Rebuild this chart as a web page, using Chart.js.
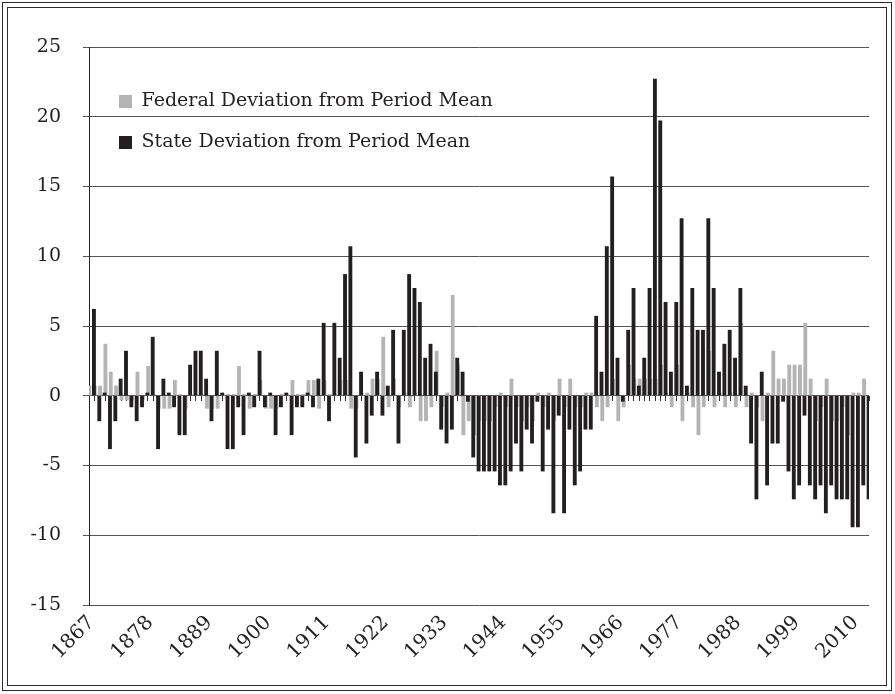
<!DOCTYPE html>
<html><head><meta charset="utf-8">
<script src="https://cdn.jsdelivr.net/npm/chart.js@4/dist/chart.umd.min.js"></script>
<style>
html,body{margin:0;padding:0;background:#fff;}
#wrap{position:relative;width:895px;height:694px;}
.frame{position:absolute;border:1px solid #2a2a2a;pointer-events:none;}
#f1{left:2px;top:2px;width:888px;height:687px;}
#f2{left:7px;top:7px;width:878px;height:677px;}
canvas{position:absolute;left:0;top:0;}
</style></head><body>
<div id="wrap"><div class="frame" id="f1"></div><div class="frame" id="f2"></div>
<canvas id="c" width="895" height="694"></canvas></div>
<script>
const firstYear = 1867;
const tickLabels = ['1867','1878','1889','1900','1911','1922','1933','1944','1955','1966','1977','1988','1999','2010'];
const seriesNames = ['Federal Deviation from Period Mean','State Deviation from Period Mean'];

const federal = [
 0.7, 0.7, 0.7, 3.7, 1.7, 0.7,-0.3,-0.3,-0.3, 1.7,
-0.3, 2.1, 0.1,-0.9,-0.9,-0.9, 1.1, 0.1,-0.9, 0.1,
 0.1, 0.1,-0.9,-0.9,-0.9, 0.1, 0.1, 0.1, 2.1, 0.1,
-0.9, 0.1, 1.1,-0.9,-0.9,-0.9, 0.1, 0.1, 1.1, 0.1,
 0.1, 1.1, 1.1,-0.9, 1.1, 0.1, 0.1, 1.1, 1.1,-0.9,
-0.9, 0.2, 0.2, 1.2, 1.2, 4.2,-0.8, 1.2,-0.8, 0.2,
-0.8, 0.2,-1.8,-1.8,-0.8, 3.2,-0.8, 0.2, 7.2, 2.2,
-2.8,-1.8,-2.8,-1.8,-1.8,-1.8,-0.8, 0.2,-0.8, 1.2,
-0.8,-1.8,-0.8,-1.8, 0.2,-0.8, 0.2,-1.8, 1.2,-0.8,
 1.2,-0.8,-0.8, 0.2, 0.2,-0.8,-1.8,-0.8, 1.2,-1.8,
-0.8, 2.2, 1.2, 1.2, 1.2, 1.2, 1.2, 2.2, 0.2,-0.8,
 2.2,-1.8, 0.2,-0.8,-2.8,-0.8, 3.2,-0.8, 0.2,-0.8,
 0.2,-0.8, 5.2,-0.8, 0.2,-0.8,-1.8, 0.2, 3.2, 1.2,
 1.2, 2.2, 2.2, 2.2, 5.2, 1.2,-1.8,-0.8, 1.2,-1.8,
-1.8,-0.8,-2.8, 0.2, 0.2, 1.2
];

const state = [
 6.2,-1.8, 0.2,-3.8,-1.8, 1.2, 3.2,-0.8,-1.8,-0.8,
 0.2, 4.2,-3.8, 1.2, 0.2,-0.8,-2.8,-2.8, 2.2, 3.2,
 3.2, 1.2,-1.8, 3.2, 0.2,-3.8,-3.8,-0.8,-2.8, 0.2,
-0.8, 3.2,-0.8, 0.2,-2.8,-0.8, 0.2,-2.8,-0.8,-0.8,
 0.2,-0.8, 1.2, 5.2,-1.8, 5.2, 2.7, 8.7,10.7,-4.4,
 1.7,-3.4,-1.4, 1.7,-1.4, 0.7, 4.7,-3.4, 4.7, 8.7,
 7.7, 6.7, 2.7, 3.7, 1.7,-2.4,-3.4,-2.4, 2.7, 1.7,
-0.4,-4.4,-5.4,-5.4,-5.4,-5.4,-6.4,-6.4,-5.4,-3.4,
-5.4,-2.4,-3.4,-0.4,-5.4,-2.4,-8.4,-1.4,-8.4,-2.4,
-6.4,-5.4,-2.4,-2.4, 5.7, 1.7,10.7,15.7, 2.7,-0.4,
 4.7, 7.7, 0.7, 2.7, 7.7,22.7,19.7, 6.7, 1.7, 6.7,
12.7, 0.7, 7.7, 4.7, 4.7,12.7, 7.7, 1.7, 3.7, 4.7,
 2.7, 7.7, 0.7,-3.4,-7.4, 1.7,-6.4,-3.4,-3.4,-0.4,
-5.4,-7.4,-6.4,-1.4,-6.4,-7.4,-6.4,-8.4,-6.4,-7.4,
-7.4,-7.4,-9.4,-9.4,-6.4,-7.4
];

const years = federal.map((_, i) => firstYear + i);
const tickValues = tickLabels.map(Number);

const GREY = '#b4b4b4', BLACK = '#231f20';
const FONT = "'DejaVu Serif', serif";
const lo = years[0] - 0.5, hi = years[years.length - 1] + 0.5;
const shift = 0.125;

const legendPlace = {
  id: 'legendPlace',
  afterLayout(chart) {
    const lg = chart.legend, a = chart.chartArea;
    const w = lg.width, h = lg.height;
    lg.left = a.left + 8; lg.top = a.top + 23;
    lg.right = lg.left + w; lg.bottom = lg.top + h;
  }
};

new Chart(document.getElementById('c').getContext('2d'), {
  type: 'bar',
  data: {
    datasets: [
      { label: seriesNames[0], data: years.map((y, i) => ({x: y, y: federal[i]})),
        backgroundColor: GREY, xAxisID: 'xf', order: 1, barThickness: 3.2 },
      { label: seriesNames[1], data: years.map((y, i) => ({x: y, y: state[i]})),
        backgroundColor: BLACK, xAxisID: 'xs', order: 0, barThickness: 3.2 }
    ]
  },
  options: {
    responsive: false, animation: false,
    layout: { padding: { left: 10, top: 47, right: 26, bottom: 0 } },
    scales: {
      x: { type: 'linear', position: 'bottom', min: lo, max: hi, offset: false,
        afterBuildTicks: s => { s.ticks = tickValues.map(v => ({value: v})); },
        ticks: { autoSkip: false, minRotation: 45, maxRotation: 45, padding: 6,
          font: { family: FONT, size: 20 }, color: BLACK,
          callback: v => tickLabels[tickValues.indexOf(v)] },
        grid: { display: false, drawTicks: false, offset: false }, border: { display: false },
        afterFit: s => { s.height = 89; } },
      xf: { type: 'linear', display: false, offset: false, grid: { offset: false }, min: lo + shift, max: hi + shift },
      xs: { type: 'linear', display: false, offset: false, grid: { offset: false }, min: lo - shift, max: hi - shift },
      x0: { type: 'linear', position: { y: 0 }, min: lo, max: hi, offset: false,
        afterBuildTicks: s => { s.ticks = years.map(v => ({value: v - 0.5})).concat([{value: hi}]); },
        ticks: { display: false },
        grid: { drawOnChartArea: false, drawTicks: true, tickLength: 5, color: '#333', offset: false },
        border: { display: false } },
      y: { min: -15, max: 25,
        ticks: { stepSize: 5, padding: 22, font: { family: FONT, size: 19 }, color: BLACK },
        grid: { color: '#555', tickLength: 6 },
        border: { color: '#222' },
        afterFit: s => { s.width = 79; } }
    },
    plugins: {
      legend: { position: 'chartArea', align: 'start',
        labels: { font: { family: FONT, size: 19 }, color: BLACK, boxWidth: 13, boxHeight: 13, padding: 22,
          sort: (a, b) => a.datasetIndex - b.datasetIndex } },
      tooltip: { enabled: false }
    }
  },
  plugins: [legendPlace]
});
</script>
</body></html>
